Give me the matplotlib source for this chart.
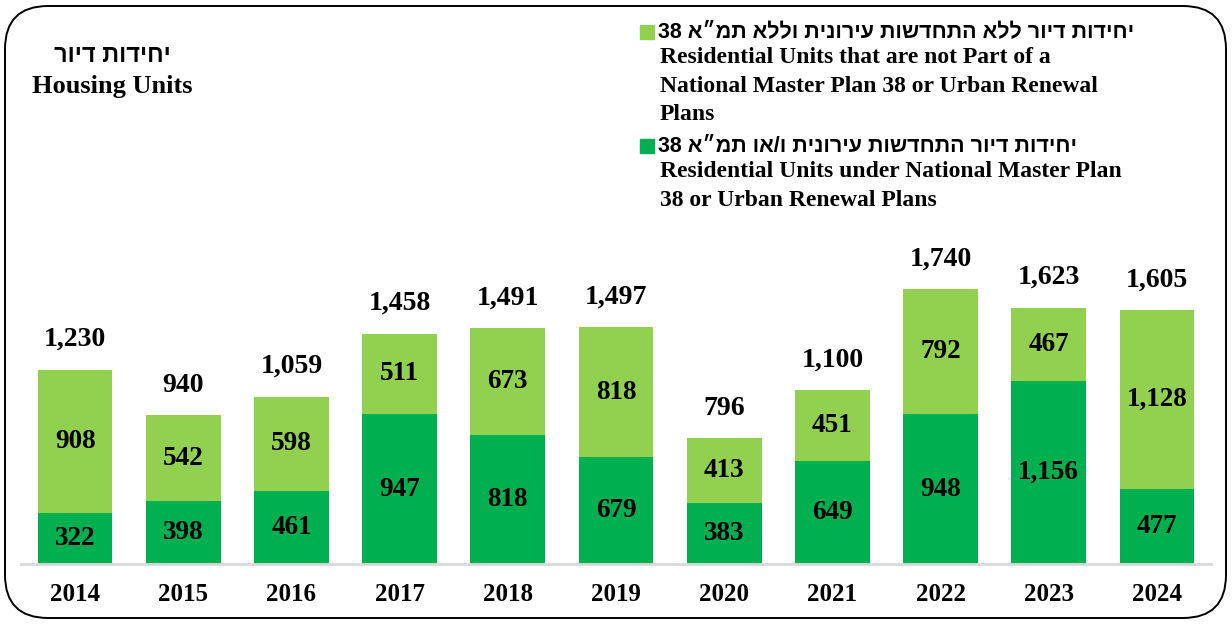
import numpy as np
import matplotlib.pyplot as plt
from matplotlib.patches import FancyBboxPatch, Rectangle

years = ['2014', '2015', '2016', '2017', '2018', '2019', '2020', '2021', '2022', '2023', '2024']
renewal = [322, 398, 461, 947, 818, 679, 383, 649, 948, 1156, 477]
not_renewal = [908, 542, 598, 511, 673, 818, 413, 451, 792, 467, 1128]
totals = [1230, 940, 1059, 1458, 1491, 1497, 796, 1100, 1740, 1623, 1605]

title_he = 'יחידות דיור'
title_en = 'Housing Units'
leg1_he = 'יחידות דיור ללא התחדשות עירונית וללא תמ״א'
leg1_en = 'Residential Units that are not Part of a\nNational Master Plan 38 or Urban Renewal\nPlans'
leg2_he = 'יחידות דיור התחדשות עירונית ו/או תמ״א'
leg2_en = 'Residential Units under National Master Plan\n38 or Urban Renewal Plans'

dark = '#00B050'
light = '#92D050'

def rtl(s):
    # no bidi in matplotlib: flip the hebrew part by hand
    return s[::-1]

serif = ['Liberation Serif', 'DejaVu Serif']
sans = ['Liberation Sans', 'DejaVu Sans']

W, H = 1232, 624
fig = plt.figure(figsize=(W / 100, H / 100), dpi=100)

# rounded frame around the whole picture
frame = FancyBboxPatch((5 / W, 6 / H), (W - 11) / W, (H - 12) / H,
                       boxstyle='round,pad=0,rounding_size=0.035',
                       transform=fig.transFigure, fill=False,
                       edgecolor='black', linewidth=1.4,
                       mutation_aspect=W / H)
fig.patches.append(frame)

ax = fig.add_axes([21 / W, (H - 564) / H, (1211 - 21) / W, 554 / H])
x = np.arange(len(years))
ax.bar(x, renewal, width=0.69, color=dark, zorder=2)
ax.bar(x, not_renewal, width=0.69, bottom=renewal, color=light, zorder=2)
ax.set_xlim(-0.5, len(years) - 0.5)
ax.set_ylim(0, 3506)

for i in range(len(years)):
    ax.text(x[i], renewal[i] / 2, f'{renewal[i]:,}', ha='center', va='center',
            fontsize=19.5, fontweight='bold', family=serif)
    ax.text(x[i], renewal[i] + not_renewal[i] / 2, f'{not_renewal[i]:,}',
            ha='center', va='center', fontsize=19.5, fontweight='bold', family=serif)
    ax.annotate(f'{totals[i]:,}', (x[i], totals[i]), xytext=(0, 30),
                textcoords='offset pixels', ha='center', va='center',
                fontsize=20, fontweight='bold', family=serif)

for s in ['top', 'right', 'left']:
    ax.spines[s].set_visible(False)
ax.spines['bottom'].set_color('#D9D9D9')
ax.spines['bottom'].set_linewidth(2)
ax.set_yticks([])
ax.set_xticks(x)
ax.set_xticklabels(years, fontsize=18, fontweight='bold', family=serif)
ax.tick_params(axis='x', length=0, pad=14)

# title on the left
fig.text(112 / W, 1 - 56 / H, rtl(title_he), ha='center', va='center',
         fontsize=17, fontweight='bold', family=sans)
fig.text(112 / W, 1 - 87 / H, title_en, ha='center', va='center',
         fontsize=19, fontweight='bold', family=serif)

# legend drawn by hand
def legend_entry(y_he, color, he, en):
    fig.patches.append(Rectangle((640 / W, 1 - (y_he + 7) / H), 14 / W, 14 / H,
                                 transform=fig.transFigure, color=color))
    fig.text(658 / W, 1 - y_he / H, '38 ' + rtl(he), ha='left', va='center',
             fontsize=15.5, fontweight='bold', family=sans)
    fig.text(660 / W, 1 - (y_he + 15) / H, en, ha='left', va='top',
             fontsize=17, fontweight='bold', family=serif, linespacing=1.47)

legend_entry(32, light, leg1_he, leg1_en)
legend_entry(146, dark, leg2_he, leg2_en)

fig.savefig('out.png', dpi=100)
